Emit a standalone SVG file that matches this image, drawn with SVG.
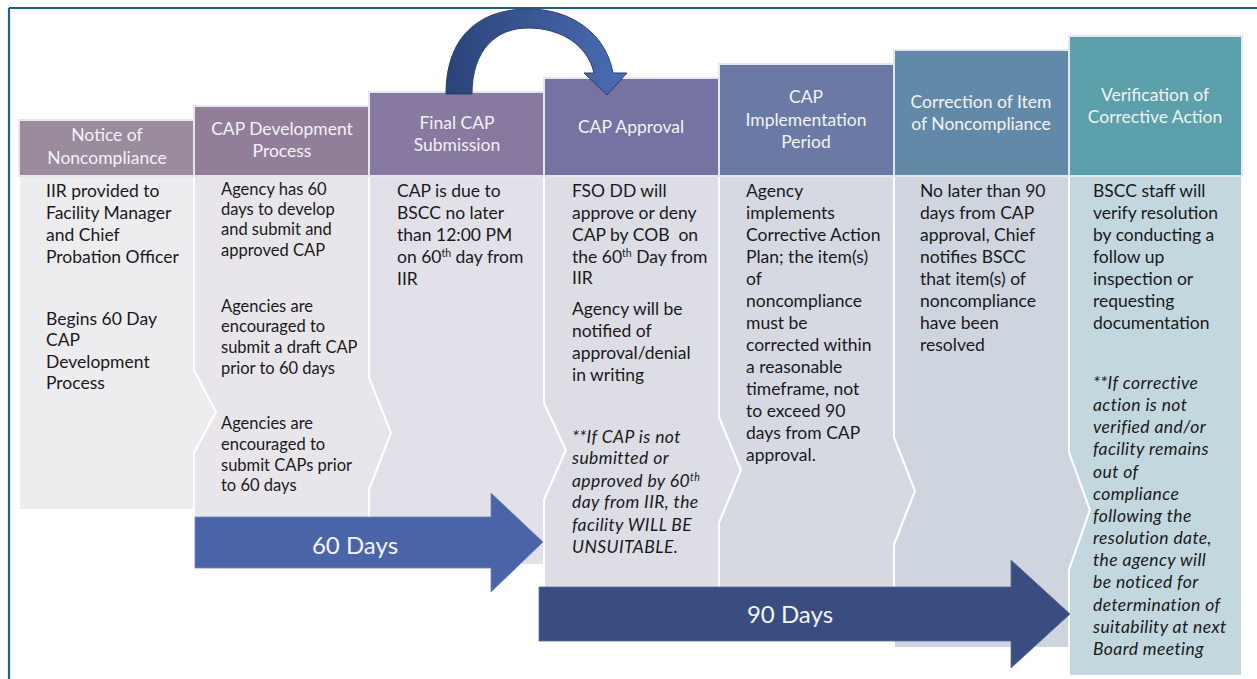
<svg xmlns="http://www.w3.org/2000/svg" width="1257" height="679" viewBox="0 0 1257 679">
<style>
.hd{font-family:Lato,"Liberation Sans",sans-serif;font-size:17.5px;fill:#F2F2F4;text-anchor:middle}
.bd{font-family:Lato,"Liberation Sans",sans-serif;font-size:17.5px;fill:#1A1A1A}
.bs{font-family:Lato,"Liberation Sans",sans-serif;font-size:16.5px;fill:#1A1A1A}
.it{font-style:italic;letter-spacing:0.4px}
.sup{font-size:10.5px}
.body{stroke:#FFFFFF;stroke-width:2}
.head{stroke:#E4E7EE;stroke-width:2}
.al{font-family:Lato,"Liberation Sans",sans-serif;font-size:24px;fill:#F4F4F8;text-anchor:middle}
</style>
<defs>
<linearGradient id="curveGrad" x1="0" y1="0" x2="1" y2="0">
<stop offset="0" stop-color="#2A4378"/>
<stop offset="1" stop-color="#4B6DB5"/>
</linearGradient>
</defs>
<rect width="1257" height="679" fill="#FFFFFF"/>
<g id="frame" fill="none" stroke="#22607F" stroke-width="2.2">
<line x1="9" y1="8" x2="1257" y2="8"/>
<line x1="9" y1="8" x2="9" y2="679"/>
</g>

<g id="node-notice">
<path class="body" fill="#EDECEF" d="M19,176 H194 V370 L216,412 L194,453 V510 H19 Z"/>
<rect class="head" x="19" y="120" width="175" height="56" fill="#9A8B9D"/>
<text class="hd" x="107" y="141">Notice of</text>
<text class="hd" x="107" y="164">Noncompliance</text>
<text class="bd" x="46" y="197">IIR provided to</text>
<text class="bd" x="46" y="219">Facility Manager</text>
<text class="bd" x="46" y="241">and Chief</text>
<text class="bd" x="46" y="263">Probation Officer</text>
<text class="bd" x="46" y="325">Begins 60 Day</text>
<text class="bd" x="46" y="346">CAP</text>
<text class="bd" x="46" y="368">Development</text>
<text class="bd" x="46" y="389">Process</text>
</g>

<g id="node-development">
<path class="body" fill="#E8E6EB" d="M194,176 H369 V377 L391,433 L369,490 V530 H194 V453 L216,412 L194,370 Z"/>
<rect class="head" x="194" y="106" width="175" height="70" fill="#917F9A"/>
<text class="hd" x="282" y="135">CAP Development</text>
<text class="hd" x="282" y="157">Process</text>
<text class="bs" x="221" y="195">Agency has 60</text>
<text class="bs" x="221" y="215">days to develop</text>
<text class="bs" x="221" y="235">and submit and</text>
<text class="bs" x="221" y="256">approved CAP</text>
<text class="bs" x="221" y="312">Agencies are</text>
<text class="bs" x="221" y="332">encouraged to</text>
<text class="bs" x="221" y="353">submit a draft CAP</text>
<text class="bs" x="221" y="374">prior to 60 days</text>
<text class="bs" x="221" y="429">Agencies are</text>
<text class="bs" x="221" y="450">encouraged to</text>
<text class="bs" x="221" y="471">submit CAPs prior</text>
<text class="bs" x="221" y="491">to 60 days</text>
</g>

<g id="node-final">
<path class="body" fill="#E2E1E9" d="M369,176 H544 V403 L566,450 L544,500 V565 H369 V490 L391,433 L369,377 Z"/>
<rect class="head" x="369" y="92" width="175" height="84" fill="#8779A0"/>
<text class="hd" x="457" y="129">Final CAP</text>
<text class="hd" x="457" y="151">Submission</text>
<text class="bd" x="397" y="197">CAP is due to</text>
<text class="bd" x="397" y="219">BSCC no later</text>
<text class="bd" x="397" y="241">than 12:00 PM</text>
<text class="bd" x="397" y="263">on 60<tspan class="sup" dy="-6">th</tspan><tspan dy="6"> day from</tspan></text>
<text class="bd" x="397" y="285">IIR</text>
</g>

<g id="node-approval">
<path class="body" fill="#DDDDE5" d="M544,176 H719 V417 L741,470 L719,523 V600 H544 V500 L566,450 L544,403 Z"/>
<rect class="head" x="544" y="78" width="175" height="98" fill="#7672A1"/>
<text class="hd" x="631" y="133">CAP Approval</text>
<text class="bd" x="572" y="197">FSO DD will</text>
<text class="bd" x="572" y="219">approve or deny</text>
<text class="bd" x="572" y="241" xml:space="preserve">CAP by COB  on</text>
<text class="bd" x="572" y="263">the 60<tspan class="sup" dy="-6">th</tspan><tspan dy="6"> Day from</tspan></text>
<text class="bd" x="572" y="284">IIR</text>
<text class="bd" x="572" y="315">Agency will be</text>
<text class="bd" x="572" y="337">notified of</text>
<text class="bd" x="572" y="359">approval/denial</text>
<text class="bd" x="572" y="381">in writing</text>
<text class="bd it" x="572" y="443">**If CAP is not</text>
<text class="bd it" x="572" y="464">submitted or</text>
<text class="bd it" x="572" y="487">approved by 60<tspan class="sup" dy="-6">th</tspan></text>
<text class="bd it" x="572" y="508">day from IIR, the</text>
<text class="bd it" x="572" y="531">facility WILL BE</text>
<text class="bd it" x="572" y="553">UNSUITABLE.</text>
</g>

<g id="node-implementation">
<path class="body" fill="#D6D9E2" d="M719,176 H894 V437 L915,491 L894,545 V600 H719 V523 L741,470 L719,417 Z"/>
<rect class="head" x="719" y="64" width="175" height="112" fill="#6A7AA4"/>
<text class="hd" x="806" y="103">CAP</text>
<text class="hd" x="806" y="126">Implementation</text>
<text class="hd" x="806" y="148">Period</text>
<text class="bd" x="746" y="197">Agency</text>
<text class="bd" x="746" y="219">implements</text>
<text class="bd" x="746" y="241">Corrective Action</text>
<text class="bd" x="746" y="263">Plan; the item(s)</text>
<text class="bd" x="746" y="285">of</text>
<text class="bd" x="746" y="307">noncompliance</text>
<text class="bd" x="746" y="329">must be</text>
<text class="bd" x="746" y="351">corrected within</text>
<text class="bd" x="746" y="373">a reasonable</text>
<text class="bd" x="746" y="395">timeframe, not</text>
<text class="bd" x="746" y="417">to exceed 90</text>
<text class="bd" x="746" y="439">days from CAP</text>
<text class="bd" x="746" y="461">approval.</text>
</g>

<g id="node-correction">
<path class="body" fill="#CED5DE" d="M894,176 H1069 V452 L1090,510 L1069,570 V648 H894 V545 L915,491 L894,437 Z"/>
<rect class="head" x="894" y="50" width="175" height="126" fill="#628AA8"/>
<text class="hd" x="981" y="108">Correction of Item</text>
<text class="hd" x="981" y="130">of Noncompliance</text>
<text class="bd" x="920" y="197">No later than 90</text>
<text class="bd" x="920" y="219">days from CAP</text>
<text class="bd" x="920" y="241">approval, Chief</text>
<text class="bd" x="920" y="263">notifies BSCC</text>
<text class="bd" x="920" y="285">that item(s) of</text>
<text class="bd" x="920" y="307">noncompliance</text>
<text class="bd" x="920" y="329">have been</text>
<text class="bd" x="920" y="351">resolved</text>
</g>

<g id="node-verification">
<path class="body" fill="#C3D7DE" d="M1069,176 H1242 V676 H1069 V570 L1090,510 L1069,452 Z"/>
<rect class="head" x="1069" y="36" width="173" height="140" fill="#5BA0AA"/>
<text class="hd" x="1155" y="101">Verification of</text>
<text class="hd" x="1155" y="123">Corrective Action</text>
<text class="bd" x="1093" y="197">BSCC staff will</text>
<text class="bd" x="1093" y="219">verify resolution</text>
<text class="bd" x="1093" y="241">by conducting a</text>
<text class="bd" x="1093" y="263">follow up</text>
<text class="bd" x="1093" y="285">inspection or</text>
<text class="bd" x="1093" y="307">requesting</text>
<text class="bd" x="1093" y="329">documentation</text>
<text class="bd it" x="1093" y="389">**If corrective</text>
<text class="bd it" x="1093" y="411">action is not</text>
<text class="bd it" x="1093" y="433">verified and/or</text>
<text class="bd it" x="1093" y="455">facility remains</text>
<text class="bd it" x="1093" y="478">out of</text>
<text class="bd it" x="1093" y="500">compliance</text>
<text class="bd it" x="1093" y="522">following the</text>
<text class="bd it" x="1093" y="544">resolution date,</text>
<text class="bd it" x="1093" y="566">the agency will</text>
<text class="bd it" x="1093" y="588">be noticed for</text>
<text class="bd it" x="1093" y="611">determination of</text>
<text class="bd it" x="1093" y="633">suitability at next</text>
<text class="bd it" x="1093" y="655">Board meeting</text>
</g>

<g id="connectors">
<path id="curved-arrow" fill="url(#curveGrad)" stroke="#2A3E6C" stroke-width="1" d="M446,94 C446,32 484,9 528,9 C572,9 606,34 613,73 L627,73 L607,95 L584,73 L594,73 C588,46 562,28 528,28 C496,28 472,50 472,94 Z"/>
<g id="arrow-60">
<path fill="#4965A7" stroke="#6F86BE" stroke-width="0.8" d="M195,517 H491 V493 L543,542 L491,592 V568 H195 Z"/>
<text class="al" x="355" y="554">60 Days</text>
</g>
<g id="arrow-90">
<path fill="#394D80" stroke="#5A6C98" stroke-width="0.8" d="M539,587 H1011 V560 L1070,614 L1011,668 V641 H539 Z"/>
<text class="al" x="790" y="623">90 Days</text>
</g>
</g>
</svg>
